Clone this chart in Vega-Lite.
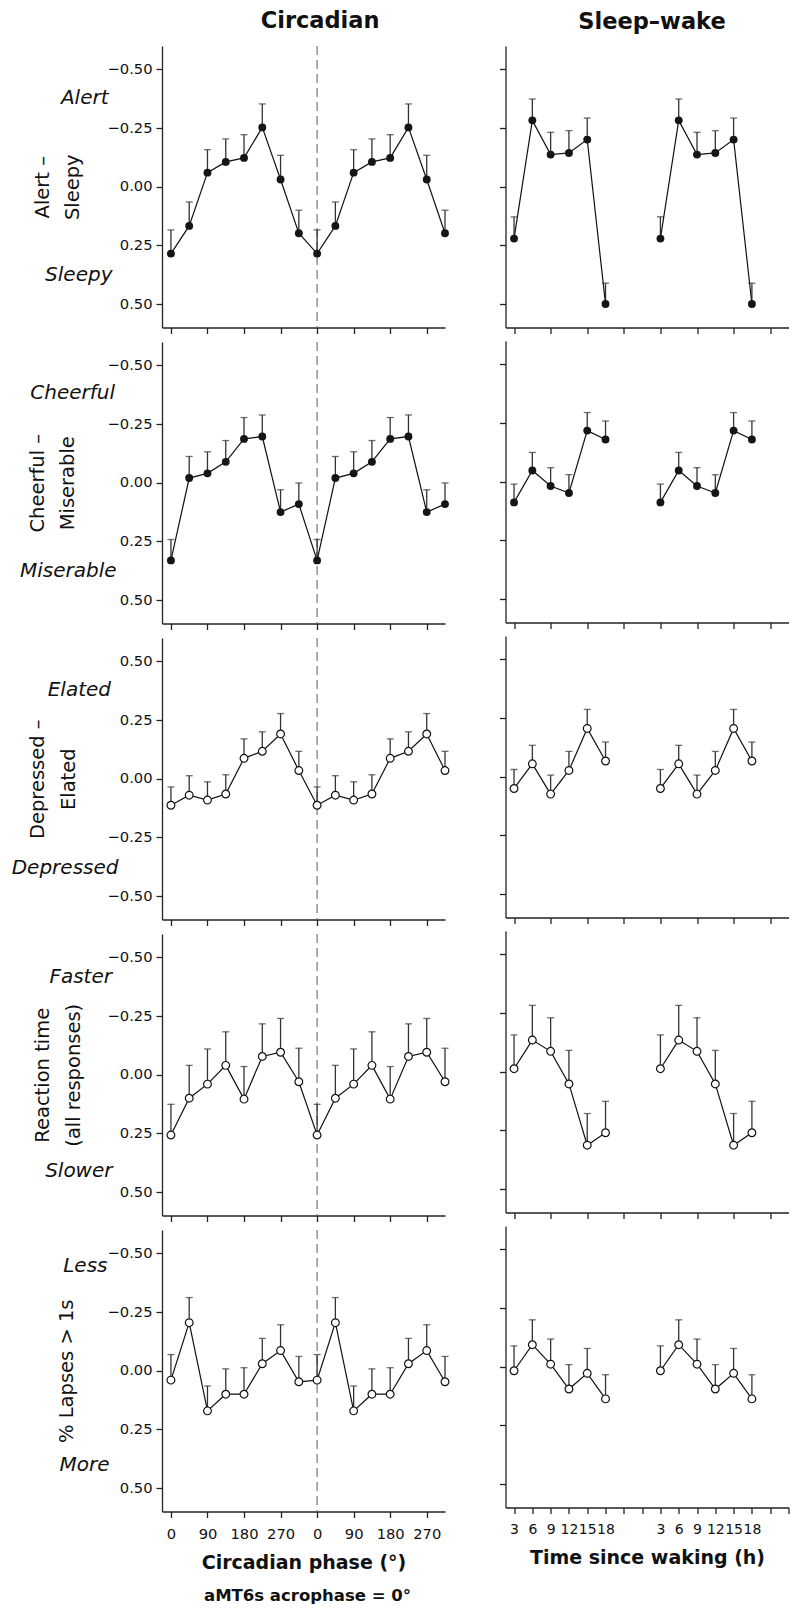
{
"$schema": "https://vega.github.io/schema/vega-lite/v6.json",
"padding": {"left": 11, "top": 9, "right": 5, "bottom": 5},
"datasets": {
"alertC": [
{"phase":0,"mean":0.285,"bar":0.184},{"phase":45,"mean":0.167,"bar":0.065},{"phase":90,"mean":-0.06,"bar":-0.158},{"phase":135,"mean":-0.106,"bar":-0.204},{"phase":180,"mean":-0.123,"bar":-0.222},{"phase":225,"mean":-0.253,"bar":-0.353},{"phase":270,"mean":-0.031,"bar":-0.134},{"phase":315,"mean":0.198,"bar":0.1},
{"phase":360,"mean":0.285,"bar":0.184},{"phase":405,"mean":0.167,"bar":0.065},{"phase":450,"mean":-0.06,"bar":-0.158},{"phase":495,"mean":-0.106,"bar":-0.204},{"phase":540,"mean":-0.123,"bar":-0.222},{"phase":585,"mean":-0.253,"bar":-0.353},{"phase":630,"mean":-0.031,"bar":-0.134},{"phase":675,"mean":0.198,"bar":0.1}],
"alertS": [
{"t":3,"copy":"a","mean":0.221,"bar":0.128},{"t":6,"copy":"a","mean":-0.283,"bar":-0.374},{"t":9,"copy":"a","mean":-0.137,"bar":-0.232},{"t":12,"copy":"a","mean":-0.144,"bar":-0.239},{"t":15,"copy":"a","mean":-0.201,"bar":-0.293},{"t":18,"copy":"a","mean":0.5,"bar":0.411},
{"t":27,"copy":"b","mean":0.221,"bar":0.128},{"t":30,"copy":"b","mean":-0.283,"bar":-0.374},{"t":33,"copy":"b","mean":-0.137,"bar":-0.232},{"t":36,"copy":"b","mean":-0.144,"bar":-0.239},{"t":39,"copy":"b","mean":-0.201,"bar":-0.293},{"t":42,"copy":"b","mean":0.5,"bar":0.411}],
"cheerC": [
{"phase":0,"mean":0.331,"bar":0.242},{"phase":45,"mean":-0.02,"bar":-0.112},{"phase":90,"mean":-0.04,"bar":-0.132},{"phase":135,"mean":-0.089,"bar":-0.18},{"phase":180,"mean":-0.187,"bar":-0.278},{"phase":225,"mean":-0.197,"bar":-0.289},{"phase":270,"mean":0.125,"bar":0.03},{"phase":315,"mean":0.091,"bar":0.001},
{"phase":360,"mean":0.331,"bar":0.242},{"phase":405,"mean":-0.02,"bar":-0.112},{"phase":450,"mean":-0.04,"bar":-0.132},{"phase":495,"mean":-0.089,"bar":-0.18},{"phase":540,"mean":-0.187,"bar":-0.278},{"phase":585,"mean":-0.197,"bar":-0.289},{"phase":630,"mean":0.125,"bar":0.03},{"phase":675,"mean":0.091,"bar":0.001}],
"cheerS": [
{"t":3,"copy":"a","mean":0.088,"bar":0.01},{"t":6,"copy":"a","mean":-0.048,"bar":-0.125},{"t":9,"copy":"a","mean":0.018,"bar":-0.06},{"t":12,"copy":"a","mean":0.048,"bar":-0.03},{"t":15,"copy":"a","mean":-0.218,"bar":-0.295},{"t":18,"copy":"a","mean":-0.18,"bar":-0.259},
{"t":27,"copy":"b","mean":0.088,"bar":0.01},{"t":30,"copy":"b","mean":-0.048,"bar":-0.125},{"t":33,"copy":"b","mean":0.018,"bar":-0.06},{"t":36,"copy":"b","mean":0.048,"bar":-0.03},{"t":39,"copy":"b","mean":-0.218,"bar":-0.295},{"t":42,"copy":"b","mean":-0.18,"bar":-0.259}],
"elatC": [
{"phase":0,"mean":-0.113,"bar":-0.035},{"phase":45,"mean":-0.07,"bar":0.013},{"phase":90,"mean":-0.091,"bar":-0.013},{"phase":135,"mean":-0.065,"bar":0.017},{"phase":180,"mean":0.087,"bar":0.17},{"phase":225,"mean":0.117,"bar":0.2},{"phase":270,"mean":0.191,"bar":0.278},{"phase":315,"mean":0.035,"bar":0.117},
{"phase":360,"mean":-0.113,"bar":-0.035},{"phase":405,"mean":-0.07,"bar":0.013},{"phase":450,"mean":-0.091,"bar":-0.013},{"phase":495,"mean":-0.065,"bar":0.017},{"phase":540,"mean":0.087,"bar":0.17},{"phase":585,"mean":0.117,"bar":0.2},{"phase":630,"mean":0.191,"bar":0.278},{"phase":675,"mean":0.035,"bar":0.117}],
"elatS": [
{"t":3,"copy":"a","mean":-0.05,"bar":0.031},{"t":6,"copy":"a","mean":0.055,"bar":0.134},{"t":9,"copy":"a","mean":-0.074,"bar":0.007},{"t":12,"copy":"a","mean":0.027,"bar":0.108},{"t":15,"copy":"a","mean":0.206,"bar":0.287},{"t":18,"copy":"a","mean":0.067,"bar":0.148},
{"t":27,"copy":"b","mean":-0.05,"bar":0.031},{"t":30,"copy":"b","mean":0.055,"bar":0.134},{"t":33,"copy":"b","mean":-0.074,"bar":0.007},{"t":36,"copy":"b","mean":0.027,"bar":0.108},{"t":39,"copy":"b","mean":0.206,"bar":0.287},{"t":42,"copy":"b","mean":0.067,"bar":0.148}],
"rtC": [
{"phase":0,"mean":0.257,"bar":0.126},{"phase":45,"mean":0.1,"bar":-0.04},{"phase":90,"mean":0.04,"bar":-0.11},{"phase":135,"mean":-0.04,"bar":-0.183},{"phase":180,"mean":0.104,"bar":-0.035},{"phase":225,"mean":-0.078,"bar":-0.217},{"phase":270,"mean":-0.096,"bar":-0.24},{"phase":315,"mean":0.03,"bar":-0.113},
{"phase":360,"mean":0.257,"bar":0.126},{"phase":405,"mean":0.1,"bar":-0.04},{"phase":450,"mean":0.04,"bar":-0.11},{"phase":495,"mean":-0.04,"bar":-0.183},{"phase":540,"mean":0.104,"bar":-0.035},{"phase":585,"mean":-0.078,"bar":-0.217},{"phase":630,"mean":-0.096,"bar":-0.24},{"phase":675,"mean":0.03,"bar":-0.113}],
"rtS": [
{"t":3,"copy":"a","mean":-0.013,"bar":-0.157},{"t":6,"copy":"a","mean":-0.135,"bar":-0.283},{"t":9,"copy":"a","mean":-0.087,"bar":-0.23},{"t":12,"copy":"a","mean":0.052,"bar":-0.091},{"t":15,"copy":"a","mean":0.313,"bar":0.178},{"t":18,"copy":"a","mean":0.26,"bar":0.126},
{"t":27,"copy":"b","mean":-0.013,"bar":-0.157},{"t":30,"copy":"b","mean":-0.135,"bar":-0.283},{"t":33,"copy":"b","mean":-0.087,"bar":-0.23},{"t":36,"copy":"b","mean":0.052,"bar":-0.091},{"t":39,"copy":"b","mean":0.313,"bar":0.178},{"t":42,"copy":"b","mean":0.26,"bar":0.126}],
"lapC": [
{"phase":0,"mean":0.04,"bar":-0.069},{"phase":45,"mean":-0.205,"bar":-0.312},{"phase":90,"mean":0.171,"bar":0.065},{"phase":135,"mean":0.1,"bar":-0.008},{"phase":180,"mean":0.1,"bar":-0.013},{"phase":225,"mean":-0.03,"bar":-0.138},{"phase":270,"mean":-0.086,"bar":-0.196},{"phase":315,"mean":0.047,"bar":-0.061},
{"phase":360,"mean":0.04,"bar":-0.069},{"phase":405,"mean":-0.205,"bar":-0.312},{"phase":450,"mean":0.171,"bar":0.065},{"phase":495,"mean":0.1,"bar":-0.008},{"phase":540,"mean":0.1,"bar":-0.013},{"phase":585,"mean":-0.03,"bar":-0.138},{"phase":630,"mean":-0.086,"bar":-0.196},{"phase":675,"mean":0.047,"bar":-0.061}],
"lapS": [
{"t":3,"copy":"a","mean":0.017,"bar":-0.089},{"t":6,"copy":"a","mean":-0.094,"bar":-0.2},{"t":9,"copy":"a","mean":-0.011,"bar":-0.118},{"t":12,"copy":"a","mean":0.095,"bar":-0.009},{"t":15,"copy":"a","mean":0.028,"bar":-0.078},{"t":18,"copy":"a","mean":0.137,"bar":0.034},
{"t":27,"copy":"b","mean":0.017,"bar":-0.089},{"t":30,"copy":"b","mean":-0.094,"bar":-0.2},{"t":33,"copy":"b","mean":-0.011,"bar":-0.118},{"t":36,"copy":"b","mean":0.095,"bar":-0.009},{"t":39,"copy":"b","mean":0.028,"bar":-0.078},{"t":42,"copy":"b","mean":0.137,"bar":0.034}]
},
"hconcat": [
{"spacing": 6, "vconcat": [
{"width":283,"height":281.5,"data":{"name":"alertC"},
 "title":{"text":"Circadian","fontSize":22.5,"fontWeight":"bold","anchor":"middle","frame":"group","baseline":"alphabetic","offset":-5,"dx":16.6},
 "layer":[
 {"data":{"values":[{"phase":360}]},"mark":{"type":"rule","color":"#777","strokeWidth":1.2,"strokeDash":[9,5]},"encoding":{"x":{"field":"phase","type":"quantitative","scale":{"domain":[-22,675],"nice":false,"zero":false}}}},
 {"mark":{"type":"rule","color":"#333","strokeWidth":1.3},"encoding":{"x":{"field":"phase","type":"quantitative","scale":{"domain":[-22,675],"nice":false,"zero":false}},"y":{"field":"mean","type":"quantitative","scale":{"domain":[-0.6,0.6],"reverse":true,"nice":false,"zero":false}},"y2":{"field":"bar"}}},
 {"mark":{"type":"tick","orient":"horizontal","size":7,"thickness":1.3,"color":"#333"},"encoding":{"x":{"field":"phase","type":"quantitative","scale":{"domain":[-22,675],"nice":false,"zero":false}},"y":{"field":"bar","type":"quantitative","scale":{"domain":[-0.6,0.6],"reverse":true,"nice":false,"zero":false}}}},
 {"mark":{"type":"line","color":"#111","strokeWidth":1.2},"encoding":{
   "x":{"field":"phase","type":"quantitative","scale":{"domain":[-22,675],"nice":false,"zero":false},"axis":{"values":[0,45,90,135,180,225,270,315,360,405,450,495,540,585,630,675],"labels":false,"title":null}},
   "y":{"field":"mean","type":"quantitative","scale":{"domain":[-0.6,0.6],"reverse":true,"nice":false,"zero":false},
     "axis":{"values":[-0.5,-0.38,-0.25,0,0.25,0.375,0.5],"labelOverlap":false,
       "labelExpr":"datum.value == -0.38 ? 'Alert' : datum.value == 0.375 ? 'Sleepy' : format(datum.value, '.2f')",
       "labelFontSize":{"condition":{"test":"datum.value * 4 != round(datum.value * 4)","value":20},"value":14.7},
       "labelFontStyle":{"condition":{"test":"datum.value * 4 != round(datum.value * 4)","value":"italic"},"value":"normal"},
       "tickOpacity":{"condition":{"test":"datum.value * 4 != round(datum.value * 4)","value":0},"value":1},
       "labelPadding":{"condition":[{"test":"datum.value == -0.38","value":48},{"test":"datum.value == 0.375","value":44}],"value":4},
       "title":["Alert –","Sleepy"],"titleX":-114,"titleAngle":270,"titleBaseline":"alphabetic","titleAlign":"center","titleLineHeight":30,"titleFontSize":19.5,"titleFontWeight":"normal"}}}},
 {"mark":{"type":"point","filled":true,"size":62,"color":"#151515","opacity":1},"encoding":{"x":{"field":"phase","type":"quantitative","scale":{"domain":[-22,675],"nice":false,"zero":false}},"y":{"field":"mean","type":"quantitative","scale":{"domain":[-0.6,0.6],"reverse":true,"nice":false,"zero":false}}}}
 ]},
{"width":283,"height":281.5,"data":{"name":"cheerC"},
 "layer":[
 {"data":{"values":[{"phase":360}]},"mark":{"type":"rule","color":"#777","strokeWidth":1.2,"strokeDash":[9,5]},"encoding":{"x":{"field":"phase","type":"quantitative","scale":{"domain":[-22,675],"nice":false,"zero":false}}}},
 {"mark":{"type":"rule","color":"#333","strokeWidth":1.3},"encoding":{"x":{"field":"phase","type":"quantitative","scale":{"domain":[-22,675],"nice":false,"zero":false}},"y":{"field":"mean","type":"quantitative","scale":{"domain":[-0.6,0.6],"reverse":true,"nice":false,"zero":false}},"y2":{"field":"bar"}}},
 {"mark":{"type":"tick","orient":"horizontal","size":7,"thickness":1.3,"color":"#333"},"encoding":{"x":{"field":"phase","type":"quantitative","scale":{"domain":[-22,675],"nice":false,"zero":false}},"y":{"field":"bar","type":"quantitative","scale":{"domain":[-0.6,0.6],"reverse":true,"nice":false,"zero":false}}}},
 {"mark":{"type":"line","color":"#111","strokeWidth":1.2},"encoding":{
   "x":{"field":"phase","type":"quantitative","scale":{"domain":[-22,675],"nice":false,"zero":false},"axis":{"values":[0,45,90,135,180,225,270,315,360,405,450,495,540,585,630,675],"labels":false,"title":null}},
   "y":{"field":"mean","type":"quantitative","scale":{"domain":[-0.6,0.6],"reverse":true,"nice":false,"zero":false},
     "axis":{"values":[-0.5,-0.385,-0.25,0,0.25,0.375,0.5],"labelOverlap":false,
       "labelExpr":"datum.value == -0.385 ? 'Cheerful' : datum.value == 0.375 ? 'Miserable' : format(datum.value, '.2f')",
       "labelFontSize":{"condition":{"test":"datum.value * 4 != round(datum.value * 4)","value":20},"value":14.7},
       "labelFontStyle":{"condition":{"test":"datum.value * 4 != round(datum.value * 4)","value":"italic"},"value":"normal"},
       "tickOpacity":{"condition":{"test":"datum.value * 4 != round(datum.value * 4)","value":0},"value":1},
       "labelPadding":{"condition":[{"test":"datum.value == -0.385","value":41.5},{"test":"datum.value == 0.375","value":40}],"value":4},
       "title":["Cheerful –","Miserable"],"titleX":-119,"titleAngle":270,"titleBaseline":"alphabetic","titleAlign":"center","titleLineHeight":30,"titleFontSize":19.5,"titleFontWeight":"normal"}}}},
 {"mark":{"type":"point","filled":true,"size":62,"color":"#151515","opacity":1},"encoding":{"x":{"field":"phase","type":"quantitative","scale":{"domain":[-22,675],"nice":false,"zero":false}},"y":{"field":"mean","type":"quantitative","scale":{"domain":[-0.6,0.6],"reverse":true,"nice":false,"zero":false}}}}
 ]},
{"width":283,"height":281.5,"data":{"name":"elatC"},
 "layer":[
 {"data":{"values":[{"phase":360}]},"mark":{"type":"rule","color":"#777","strokeWidth":1.2,"strokeDash":[9,5]},"encoding":{"x":{"field":"phase","type":"quantitative","scale":{"domain":[-22,675],"nice":false,"zero":false}}}},
 {"mark":{"type":"rule","color":"#333","strokeWidth":1.3},"encoding":{"x":{"field":"phase","type":"quantitative","scale":{"domain":[-22,675],"nice":false,"zero":false}},"y":{"field":"mean","type":"quantitative","scale":{"domain":[-0.6,0.6],"nice":false,"zero":false}},"y2":{"field":"bar"}}},
 {"mark":{"type":"tick","orient":"horizontal","size":7,"thickness":1.3,"color":"#333"},"encoding":{"x":{"field":"phase","type":"quantitative","scale":{"domain":[-22,675],"nice":false,"zero":false}},"y":{"field":"bar","type":"quantitative","scale":{"domain":[-0.6,0.6],"nice":false,"zero":false}}}},
 {"mark":{"type":"line","color":"#111","strokeWidth":1.2},"encoding":{
   "x":{"field":"phase","type":"quantitative","scale":{"domain":[-22,675],"nice":false,"zero":false},"axis":{"values":[0,45,90,135,180,225,270,315,360,405,450,495,540,585,630,675],"labels":false,"title":null}},
   "y":{"field":"mean","type":"quantitative","scale":{"domain":[-0.6,0.6],"nice":false,"zero":false},
     "axis":{"values":[-0.5,-0.38,-0.25,0,0.25,0.38,0.5],"labelOverlap":false,
       "labelExpr":"datum.value == 0.38 ? 'Elated' : datum.value == -0.38 ? 'Depressed' : format(datum.value, '.2f')",
       "labelFontSize":{"condition":{"test":"datum.value * 4 != round(datum.value * 4)","value":20},"value":14.7},
       "labelFontStyle":{"condition":{"test":"datum.value * 4 != round(datum.value * 4)","value":"italic"},"value":"normal"},
       "tickOpacity":{"condition":{"test":"datum.value * 4 != round(datum.value * 4)","value":0},"value":1},
       "labelPadding":{"condition":[{"test":"datum.value == 0.38","value":45.5},{"test":"datum.value == -0.38","value":38}],"value":4},
       "title":["Depressed –","Elated"],"titleX":-119,"titleAngle":270,"titleBaseline":"alphabetic","titleAlign":"center","titleLineHeight":31,"titleFontSize":19.5,"titleFontWeight":"normal"}}}},
 {"mark":{"type":"point","filled":false,"fill":"white","stroke":"#111","strokeWidth":1.2,"size":60,"opacity":1},"encoding":{"x":{"field":"phase","type":"quantitative","scale":{"domain":[-22,675],"nice":false,"zero":false}},"y":{"field":"mean","type":"quantitative","scale":{"domain":[-0.6,0.6],"nice":false,"zero":false}}}}
 ]},
{"width":283,"height":281.5,"data":{"name":"rtC"},
 "layer":[
 {"data":{"values":[{"phase":360}]},"mark":{"type":"rule","color":"#777","strokeWidth":1.2,"strokeDash":[9,5]},"encoding":{"x":{"field":"phase","type":"quantitative","scale":{"domain":[-22,675],"nice":false,"zero":false}}}},
 {"mark":{"type":"rule","color":"#333","strokeWidth":1.3},"encoding":{"x":{"field":"phase","type":"quantitative","scale":{"domain":[-22,675],"nice":false,"zero":false}},"y":{"field":"mean","type":"quantitative","scale":{"domain":[-0.6,0.6],"reverse":true,"nice":false,"zero":false}},"y2":{"field":"bar"}}},
 {"mark":{"type":"tick","orient":"horizontal","size":7,"thickness":1.3,"color":"#333"},"encoding":{"x":{"field":"phase","type":"quantitative","scale":{"domain":[-22,675],"nice":false,"zero":false}},"y":{"field":"bar","type":"quantitative","scale":{"domain":[-0.6,0.6],"reverse":true,"nice":false,"zero":false}}}},
 {"mark":{"type":"line","color":"#111","strokeWidth":1.2},"encoding":{
   "x":{"field":"phase","type":"quantitative","scale":{"domain":[-22,675],"nice":false,"zero":false},"axis":{"values":[0,45,90,135,180,225,270,315,360,405,450,495,540,585,630,675],"labels":false,"title":null}},
   "y":{"field":"mean","type":"quantitative","scale":{"domain":[-0.6,0.6],"reverse":true,"nice":false,"zero":false},
     "axis":{"values":[-0.5,-0.42,-0.25,0,0.25,0.41,0.5],"labelOverlap":false,
       "labelExpr":"datum.value == -0.42 ? 'Faster' : datum.value == 0.41 ? 'Slower' : format(datum.value, '.2f')",
       "labelFontSize":{"condition":{"test":"datum.value * 4 != round(datum.value * 4)","value":20},"value":14.7},
       "labelFontStyle":{"condition":{"test":"datum.value * 4 != round(datum.value * 4)","value":"italic"},"value":"normal"},
       "tickOpacity":{"condition":{"test":"datum.value * 4 != round(datum.value * 4)","value":0},"value":1},
       "labelPadding":{"condition":[{"test":"datum.value == -0.42","value":44.5},{"test":"datum.value == 0.41","value":44}],"value":4},
       "title":["Reaction time","(all responses)"],"titleX":-114,"titleAngle":270,"titleBaseline":"alphabetic","titleAlign":"center","titleLineHeight":31,"titleFontSize":19.5,"titleFontWeight":"normal"}}}},
 {"mark":{"type":"point","filled":false,"fill":"white","stroke":"#111","strokeWidth":1.2,"size":60,"opacity":1},"encoding":{"x":{"field":"phase","type":"quantitative","scale":{"domain":[-22,675],"nice":false,"zero":false}},"y":{"field":"mean","type":"quantitative","scale":{"domain":[-0.6,0.6],"reverse":true,"nice":false,"zero":false}}}}
 ]},
{"width":283,"height":281.5,"data":{"name":"lapC"},
 "title":{"text":"aMT6s acrophase = 0°","orient":"bottom","fontSize":16.5,"fontWeight":"bold","anchor":"middle","frame":"group","baseline":"top","offset":16,"dx":4},
 "layer":[
 {"data":{"values":[{"phase":360}]},"mark":{"type":"rule","color":"#777","strokeWidth":1.2,"strokeDash":[9,5]},"encoding":{"x":{"field":"phase","type":"quantitative","scale":{"domain":[-22,675],"nice":false,"zero":false}}}},
 {"mark":{"type":"rule","color":"#333","strokeWidth":1.3},"encoding":{"x":{"field":"phase","type":"quantitative","scale":{"domain":[-22,675],"nice":false,"zero":false}},"y":{"field":"mean","type":"quantitative","scale":{"domain":[-0.6,0.6],"reverse":true,"nice":false,"zero":false}},"y2":{"field":"bar"}}},
 {"mark":{"type":"tick","orient":"horizontal","size":7,"thickness":1.3,"color":"#333"},"encoding":{"x":{"field":"phase","type":"quantitative","scale":{"domain":[-22,675],"nice":false,"zero":false}},"y":{"field":"bar","type":"quantitative","scale":{"domain":[-0.6,0.6],"reverse":true,"nice":false,"zero":false}}}},
 {"mark":{"type":"line","color":"#111","strokeWidth":1.2},"encoding":{
   "x":{"field":"phase","type":"quantitative","scale":{"domain":[-22,675],"nice":false,"zero":false},"axis":{"values":[0,45,90,135,180,225,270,315,360,405,450,495,540,585,630,675],"labelOverlap":false,"labelExpr":"datum.value % 90 == 0 ? '' + (datum.value % 360) : ''","labelPadding":9,"title":"Circadian phase (°)","titleFontSize":19,"titleFontWeight":"bold","titlePadding":12}},
   "y":{"field":"mean","type":"quantitative","scale":{"domain":[-0.6,0.6],"reverse":true,"nice":false,"zero":false},
     "axis":{"values":[-0.5,-0.45,-0.25,0,0.25,0.4,0.5],"labelOverlap":false,
       "labelExpr":"datum.value == -0.45 ? 'Less' : datum.value == 0.4 ? 'More' : format(datum.value, '.2f')",
       "labelFontSize":{"condition":{"test":"datum.value * 4 != round(datum.value * 4)","value":20},"value":14.7},
       "labelFontStyle":{"condition":{"test":"datum.value * 4 != round(datum.value * 4)","value":"italic"},"value":"normal"},
       "tickOpacity":{"condition":{"test":"datum.value * 4 != round(datum.value * 4)","value":0},"value":1},
       "labelPadding":{"condition":[{"test":"datum.value == -0.45","value":49},{"test":"datum.value == 0.4","value":47}],"value":4},
       "title":"% Lapses > 1s","titleX":-90,"titleAngle":270,"titleBaseline":"alphabetic","titleAlign":"center","titleFontSize":19.5,"titleFontWeight":"normal"}}}},
 {"mark":{"type":"point","filled":false,"fill":"white","stroke":"#111","strokeWidth":1.2,"size":60,"opacity":1},"encoding":{"x":{"field":"phase","type":"quantitative","scale":{"domain":[-22,675],"nice":false,"zero":false}},"y":{"field":"mean","type":"quantitative","scale":{"domain":[-0.6,0.6],"reverse":true,"nice":false,"zero":false}}}}
 ]}
]},
{"spacing": 6, "vconcat": [
{"width":283,"height":281.5,"data":{"name":"alertS"},
 "title":{"text":"Sleep–wake","fontSize":22.5,"fontWeight":"bold","anchor":"middle","frame":"group","baseline":"alphabetic","offset":-5,"dx":5},
 "layer":[
 {"mark":{"type":"rule","color":"#333","strokeWidth":1.3},"encoding":{"x":{"field":"t","type":"quantitative","scale":{"domain":[1.6,48],"nice":false,"zero":false}},"y":{"field":"mean","type":"quantitative","scale":{"domain":[-0.6,0.6],"reverse":true,"nice":false,"zero":false}},"y2":{"field":"bar"}}},
 {"mark":{"type":"tick","orient":"horizontal","size":7,"thickness":1.3,"color":"#333"},"encoding":{"x":{"field":"t","type":"quantitative","scale":{"domain":[1.6,48],"nice":false,"zero":false}},"y":{"field":"bar","type":"quantitative","scale":{"domain":[-0.6,0.6],"reverse":true,"nice":false,"zero":false}}}},
 {"mark":{"type":"line","color":"#111","strokeWidth":1.2},"encoding":{
   "x":{"field":"t","type":"quantitative","scale":{"domain":[1.6,48],"nice":false,"zero":false},"axis":{"values":[3,6,9,12,15,18,21,24,27,30,33,36,39,42,45,48],"labels":false,"title":null}},
   "y":{"field":"mean","type":"quantitative","scale":{"domain":[-0.6,0.6],"reverse":true,"nice":false,"zero":false},"axis":{"values":[-0.5,-0.25,0,0.25,0.5],"labels":false,"title":null}},
   "detail":{"field":"copy"}}},
 {"mark":{"type":"point","filled":true,"size":62,"color":"#151515","opacity":1},"encoding":{"x":{"field":"t","type":"quantitative","scale":{"domain":[1.6,48],"nice":false,"zero":false}},"y":{"field":"mean","type":"quantitative","scale":{"domain":[-0.6,0.6],"reverse":true,"nice":false,"zero":false}}}}
 ]},
{"width":283,"height":281.5,"data":{"name":"cheerS"},
 "layer":[
 {"mark":{"type":"rule","color":"#333","strokeWidth":1.3},"encoding":{"x":{"field":"t","type":"quantitative","scale":{"domain":[1.6,48],"nice":false,"zero":false}},"y":{"field":"mean","type":"quantitative","scale":{"domain":[-0.6,0.6],"reverse":true,"nice":false,"zero":false}},"y2":{"field":"bar"}}},
 {"mark":{"type":"tick","orient":"horizontal","size":7,"thickness":1.3,"color":"#333"},"encoding":{"x":{"field":"t","type":"quantitative","scale":{"domain":[1.6,48],"nice":false,"zero":false}},"y":{"field":"bar","type":"quantitative","scale":{"domain":[-0.6,0.6],"reverse":true,"nice":false,"zero":false}}}},
 {"mark":{"type":"line","color":"#111","strokeWidth":1.2},"encoding":{
   "x":{"field":"t","type":"quantitative","scale":{"domain":[1.6,48],"nice":false,"zero":false},"axis":{"values":[3,6,9,12,15,18,21,24,27,30,33,36,39,42,45,48],"labels":false,"title":null}},
   "y":{"field":"mean","type":"quantitative","scale":{"domain":[-0.6,0.6],"reverse":true,"nice":false,"zero":false},"axis":{"values":[-0.5,-0.25,0,0.25,0.5],"labels":false,"title":null}},
   "detail":{"field":"copy"}}},
 {"mark":{"type":"point","filled":true,"size":62,"color":"#151515","opacity":1},"encoding":{"x":{"field":"t","type":"quantitative","scale":{"domain":[1.6,48],"nice":false,"zero":false}},"y":{"field":"mean","type":"quantitative","scale":{"domain":[-0.6,0.6],"reverse":true,"nice":false,"zero":false}}}}
 ]},
{"width":283,"height":281.5,"data":{"name":"elatS"},
 "layer":[
 {"mark":{"type":"rule","color":"#333","strokeWidth":1.3},"encoding":{"x":{"field":"t","type":"quantitative","scale":{"domain":[1.6,48],"nice":false,"zero":false}},"y":{"field":"mean","type":"quantitative","scale":{"domain":[-0.6,0.6],"nice":false,"zero":false}},"y2":{"field":"bar"}}},
 {"mark":{"type":"tick","orient":"horizontal","size":7,"thickness":1.3,"color":"#333"},"encoding":{"x":{"field":"t","type":"quantitative","scale":{"domain":[1.6,48],"nice":false,"zero":false}},"y":{"field":"bar","type":"quantitative","scale":{"domain":[-0.6,0.6],"nice":false,"zero":false}}}},
 {"mark":{"type":"line","color":"#111","strokeWidth":1.2},"encoding":{
   "x":{"field":"t","type":"quantitative","scale":{"domain":[1.6,48],"nice":false,"zero":false},"axis":{"values":[3,6,9,12,15,18,21,24,27,30,33,36,39,42,45,48],"labels":false,"title":null}},
   "y":{"field":"mean","type":"quantitative","scale":{"domain":[-0.6,0.6],"nice":false,"zero":false},"axis":{"values":[-0.5,-0.25,0,0.25,0.5],"labels":false,"title":null}},
   "detail":{"field":"copy"}}},
 {"mark":{"type":"point","filled":false,"fill":"white","stroke":"#111","strokeWidth":1.2,"size":60,"opacity":1},"encoding":{"x":{"field":"t","type":"quantitative","scale":{"domain":[1.6,48],"nice":false,"zero":false}},"y":{"field":"mean","type":"quantitative","scale":{"domain":[-0.6,0.6],"nice":false,"zero":false}}}}
 ]},
{"width":283,"height":281.5,"data":{"name":"rtS"},
 "layer":[
 {"mark":{"type":"rule","color":"#333","strokeWidth":1.3},"encoding":{"x":{"field":"t","type":"quantitative","scale":{"domain":[1.6,48],"nice":false,"zero":false}},"y":{"field":"mean","type":"quantitative","scale":{"domain":[-0.6,0.6],"reverse":true,"nice":false,"zero":false}},"y2":{"field":"bar"}}},
 {"mark":{"type":"tick","orient":"horizontal","size":7,"thickness":1.3,"color":"#333"},"encoding":{"x":{"field":"t","type":"quantitative","scale":{"domain":[1.6,48],"nice":false,"zero":false}},"y":{"field":"bar","type":"quantitative","scale":{"domain":[-0.6,0.6],"reverse":true,"nice":false,"zero":false}}}},
 {"mark":{"type":"line","color":"#111","strokeWidth":1.2},"encoding":{
   "x":{"field":"t","type":"quantitative","scale":{"domain":[1.6,48],"nice":false,"zero":false},"axis":{"values":[3,6,9,12,15,18,21,24,27,30,33,36,39,42,45,48],"labels":false,"title":null}},
   "y":{"field":"mean","type":"quantitative","scale":{"domain":[-0.6,0.6],"reverse":true,"nice":false,"zero":false},"axis":{"values":[-0.5,-0.25,0,0.25,0.5],"labels":false,"title":null}},
   "detail":{"field":"copy"}}},
 {"mark":{"type":"point","filled":false,"fill":"white","stroke":"#111","strokeWidth":1.2,"size":60,"opacity":1},"encoding":{"x":{"field":"t","type":"quantitative","scale":{"domain":[1.6,48],"nice":false,"zero":false}},"y":{"field":"mean","type":"quantitative","scale":{"domain":[-0.6,0.6],"reverse":true,"nice":false,"zero":false}}}}
 ]},
{"width":283,"height":281.5,"data":{"name":"lapS"},
 "layer":[
 {"mark":{"type":"rule","color":"#333","strokeWidth":1.3},"encoding":{"x":{"field":"t","type":"quantitative","scale":{"domain":[1.6,48],"nice":false,"zero":false},"axis":{"values":[3,6,9,12,15,18,21,24,27,30,33,36,39,42,45,48],"labelOverlap":false,"labelSeparation":-6,"labelFontSize":14,"labelExpr":"datum.value <= 18 ? '' + datum.value : (datum.value >= 27 && datum.value <= 42 ? '' + (datum.value - 24) : '')","labelPadding":9,"title":"Time since waking (h)","titleFontSize":19,"titleFontWeight":"bold","titlePadding":12}},"y":{"field":"mean","type":"quantitative","scale":{"domain":[-0.6,0.6],"reverse":true,"nice":false,"zero":false}},"y2":{"field":"bar"}}},
 {"mark":{"type":"tick","orient":"horizontal","size":7,"thickness":1.3,"color":"#333"},"encoding":{"x":{"field":"t","type":"quantitative","scale":{"domain":[1.6,48],"nice":false,"zero":false},"axis":{"values":[3,6,9,12,15,18,21,24,27,30,33,36,39,42,45,48],"labelOverlap":false,"labelSeparation":-6,"labelFontSize":14,"labelExpr":"datum.value <= 18 ? '' + datum.value : (datum.value >= 27 && datum.value <= 42 ? '' + (datum.value - 24) : '')","labelPadding":9,"title":"Time since waking (h)","titleFontSize":19,"titleFontWeight":"bold","titlePadding":12}},"y":{"field":"bar","type":"quantitative","scale":{"domain":[-0.6,0.6],"reverse":true,"nice":false,"zero":false}}}},
 {"mark":{"type":"line","color":"#111","strokeWidth":1.2},"encoding":{
   "x":{"field":"t","type":"quantitative","scale":{"domain":[1.6,48],"nice":false,"zero":false},"axis":{"values":[3,6,9,12,15,18,21,24,27,30,33,36,39,42,45,48],"labelOverlap":false,"labelSeparation":-6,"labelFontSize":14,"labelExpr":"datum.value <= 18 ? '' + datum.value : (datum.value >= 27 && datum.value <= 42 ? '' + (datum.value - 24) : '')","labelPadding":9,"title":"Time since waking (h)","titleFontSize":19,"titleFontWeight":"bold","titlePadding":12}},
   "y":{"field":"mean","type":"quantitative","scale":{"domain":[-0.6,0.6],"reverse":true,"nice":false,"zero":false},"axis":{"values":[-0.5,-0.25,0,0.25,0.5],"labels":false,"title":null}},
   "detail":{"field":"copy"}}},
 {"mark":{"type":"point","filled":false,"fill":"white","stroke":"#111","strokeWidth":1.2,"size":60,"opacity":1},"encoding":{"x":{"field":"t","type":"quantitative","scale":{"domain":[1.6,48],"nice":false,"zero":false},"axis":{"values":[3,6,9,12,15,18,21,24,27,30,33,36,39,42,45,48],"labelOverlap":false,"labelSeparation":-6,"labelFontSize":14,"labelExpr":"datum.value <= 18 ? '' + datum.value : (datum.value >= 27 && datum.value <= 42 ? '' + (datum.value - 24) : '')","labelPadding":9,"title":"Time since waking (h)","titleFontSize":19,"titleFontWeight":"bold","titlePadding":12}},"y":{"field":"mean","type":"quantitative","scale":{"domain":[-0.6,0.6],"reverse":true,"nice":false,"zero":false}}}}
 ]}
]}
],
"spacing": 46.5,
"config": {
 "font": "DejaVu Sans",
 "view": {"stroke": null},
 "axis": {"grid": false, "domainColor": "#222", "tickColor": "#222", "domainWidth": 1.3, "tickWidth": 1.3, "tickSize": 6, "labelColor": "#111", "titleColor": "#111", "labelFont": "DejaVu Sans", "titleFont": "DejaVu Sans", "labelFontSize": 14.7, "labelOverlap": false, "labelFlush": false, "labelBound": false},
 "title": {"font": "DejaVu Sans", "color": "#111"}
}
}
